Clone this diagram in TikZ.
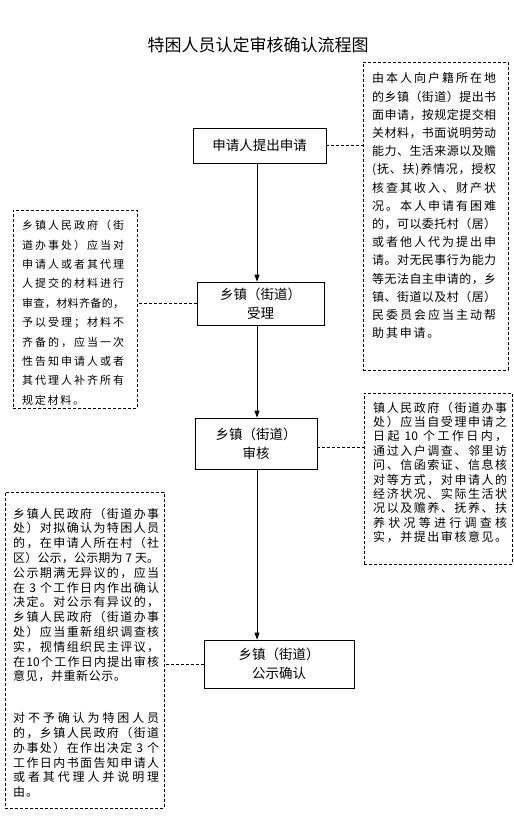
\documentclass[tikz,border=0pt]{standalone}
\usepackage{fontspec}
\newfontfamily\cjk{Noto Sans CJK SC}
\usetikzlibrary{arrows.meta}
\makeatletter
\def\jl#1#2{\hbox to #1{\jl@first#2\relax}}
\def\jl@first#1{#1\jl@rest}
\def\jl@rest#1{\ifx\relax#1\else\hfil#1\expandafter\jl@rest\fi}
\newdimen\nlsp
\def\nl#1#2{\hbox{\nlsp=#1\relax\nl@first#2\relax}}
\def\nl@first#1{#1\nl@rest}
\def\nl@rest#1{\ifx\relax#1\else\hskip\nlsp#1\expandafter\nl@rest\fi}
\makeatother
\tikzset{
  flowbox/.style={draw=black, line width=0.8pt, fill=white, align=center, inner sep=0pt,
    font=\cjk\fontsize{13.5}{19}\selectfont},
  notebox/.style={draw=black, line width=0.7pt, dash pattern=on 3pt off 2pt, inner sep=0pt},
  notetext/.style={anchor=north west, inner sep=0pt, align=left},
  arr/.style={line width=0.8pt, -{Triangle[length=7pt,width=5pt]}},
  dcon/.style={line width=0.7pt, dash pattern=on 3pt off 2pt},
}
\begin{document}
\begin{tikzpicture}[x=1pt,y=-1pt]
\useasboundingbox[fill=white] (0,0) rectangle (514,822);
\node[font=\cjk\fontsize{17}{20}\selectfont] (title) at (258,45) {特困人员认定审核确认流程图};
% main boxes
\node[flowbox, minimum width=133pt, minimum height=35pt] (b1) at (259.5,145.5) {申请人提出申请};
\node[flowbox, minimum width=127pt, minimum height=43pt] (b2) at (260.5,303.5) {乡镇（街道）\\受理};
\node[flowbox, minimum width=122pt, minimum height=51pt] (b3) at (256,443.5) {乡镇（街道）\\审核};
\node[flowbox, minimum width=150pt, minimum height=48pt] (b4) at (279,664) {乡镇（街道）\\公示确认};
% note boxes
\node[notebox, minimum width=145pt, minimum height=308pt] (r1) at (435.5,216) {};
\node[notebox, minimum width=124pt, minimum height=198pt] (l1) at (75,309) {};
\node[notebox, minimum width=148pt, minimum height=171pt] (r2) at (438,478.5) {};
\node[notebox, minimum width=159pt, minimum height=316pt] (l3) at (84.5,650) {};
% note texts
\node[notetext, font=\cjk\fontsize{12}{18.2}\selectfont] (r1t) at (372,72.6) {%
\jl{124pt}{由本人向户籍所在地}\\
\jl{124pt}{的乡镇（街道）提出书}\\
\jl{124pt}{面申请，按规定提交相}\\
\jl{124pt}{关材料，书面说明劳动}\\
\jl{124pt}{能力、生活来源以及赡}\\
\jl{124pt}{(抚、扶)养情况，授权}\\
\jl{124pt}{核查其收入、财产状}\\
\jl{124pt}{况。本人申请有困难}\\
\jl{124pt}{的，可以委托村（居）}\\
\jl{124pt}{或者他人代为提出申}\\
\jl{124pt}{请。对无民事行为能力}\\
\jl{124pt}{等无法自主申请的，乡}\\
\jl{124pt}{镇、街道以及村（居）}\\
\jl{124pt}{民委员会应当主动帮}\\
\nl{1.8pt}{助其申请。}};
\node[notetext, font=\cjk\fontsize{11}{19.4}\selectfont] (l1t) at (22,220) {%
\jl{102pt}{乡镇人民政府（街}\\
\jl{102pt}{道办事处）应当对}\\
\jl{102pt}{申请人或者其代理}\\
\jl{102pt}{人提交的材料进行}\\
\jl{102pt}{审查，材料齐备的，}\\
\jl{102pt}{予以受理；材料不}\\
\jl{102pt}{齐备的，应当一次}\\
\jl{102pt}{性告知申请人或者}\\
\jl{102pt}{其代理人补齐所有}\\
\nl{1.75pt}{规定材料。}};
\node[notetext, font=\cjk\fontsize{12}{14.4}\selectfont] (r2t) at (373,401.6) {%
\jl{134pt}{镇人民政府（街道办事}\\
\jl{134pt}{处）应当自受理申请之}\\
\jl{134pt}{日起{ 10 }个工作日内，}\\
\jl{134pt}{通过入户调查、邻里访}\\
\jl{134pt}{问、信函索证、信息核}\\
\jl{134pt}{对等方式，对申请人的}\\
\jl{134pt}{经济状况、实际生活状}\\
\jl{134pt}{况以及赡养、抚养、扶}\\
\jl{134pt}{养状况等进行调查核}\\
\jl{134pt}{实，并提出审核意见。}};
\node[notetext, font=\cjk\fontsize{12}{14.8}\selectfont] (l3t) at (13,507.6) {%
\jl{146pt}{乡镇人民政府（街道办事}\\
\jl{146pt}{处）对拟确认为特困人员}\\
\jl{146pt}{的，在申请人所在村（社}\\
\jl{146pt}{区）公示，公示期为{ 7 }天。}\\
\jl{146pt}{公示期满无异议的，应当}\\
\jl{146pt}{在{ 3 }个工作日内作出确认}\\
\jl{146pt}{决定。对公示有异议的，}\\
\jl{146pt}{乡镇人民政府（街道办事}\\
\jl{146pt}{处）应当重新组织调查核}\\
\jl{146pt}{实，视情组织民主评议，}\\
\jl{146pt}{在{10}个工作日内提出审核}\\
\nl{0.6pt}{意见，并重新公示。}\\[27pt]
\jl{146pt}{对不予确认为特困人员}\\
\jl{146pt}{的，乡镇人民政府（街道}\\
\jl{146pt}{办事处）在作出决定{ 3 }个}\\
\jl{146pt}{工作日内书面告知申请人}\\
\jl{146pt}{或者其代理人并说明理}\\
\nl{1pt}{由。}};
% arrows
\coordinate (ax) at (257,0);
\draw[arr] (b1.south -| ax) -- (b2.north -| ax);
\draw[arr] (b2.south -| ax) -- (b3.north -| ax);
\draw[arr] (b3.south -| ax) -- (b4.north -| ax);
% dashed connectors
\coordinate (b3e) at ([yshift=-4pt]b3.east);
\draw[dcon] (b1.east) -- (b1.east -| r1.west);
\draw[dcon] (b2.west) -- (b2.west -| l1.east);
\draw[dcon] (b3e) -- (b3e -| r2.west);
\draw[dcon] (b4.west) -- (b4.west -| l3.east);
\end{tikzpicture}
\end{document}
